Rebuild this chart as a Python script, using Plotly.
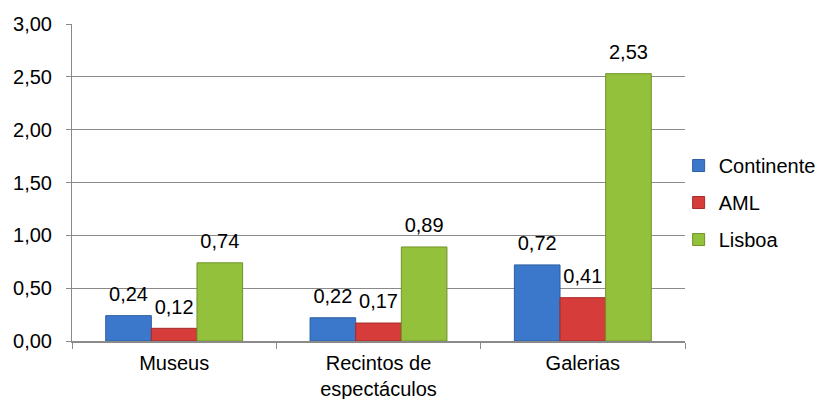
import plotly.graph_objects as go

categories = ["Museus", "Recintos de<br>espectáculos", "Galerias"]
series_names = ["Continente", "AML", "Lisboa"]
continente = [0.24, 0.22, 0.72]
aml = [0.12, 0.17, 0.41]
lisboa = [0.74, 0.89, 2.53]
y_ticks = [0, 0.5, 1.0, 1.5, 2.0, 2.5, 3.0]

colors = ["#3b78cb", "#d63c3a", "#93c13c"]
line_colors = ["#2d5e9f", "#a32c2a", "#6f9428"]
FONT = "Liberation Sans"
FS = 20

fig = go.Figure()
for i, (name, vals) in enumerate(zip(series_names, [continente, aml, lisboa])):
    fig.add_trace(go.Bar(
        x=categories, y=vals, name=name,
        offsetgroup=str(i), legendgroup=str(i),
        marker=dict(color=colors[i], line=dict(color=line_colors[i], width=1)),
    ))
for i, (name, vals) in enumerate(zip(series_names, [continente, aml, lisboa])):
    fig.add_trace(go.Scatter(
        x=categories, y=vals, mode="markers+text", showlegend=False,
        offsetgroup=str(i), hoverinfo="skip",
        text=[f"{v:.2f}".replace(".", ",") for v in vals],
        textposition="top center",
        textfont=dict(family=FONT, size=FS, color="#000000"),
        marker=dict(size=14, opacity=0),
        cliponaxis=False,
    ))

fig.update_layout(
    width=824, height=399,
    margin=dict(l=64, r=146, t=16, b=66),
    paper_bgcolor="white", plot_bgcolor="white",
    barmode="group", bargap=0.33, bargroupgap=0,
    scattermode="group", scattergap=0.33,
    separators=",.",
    font=dict(family=FONT, size=FS, color="#000000"),
    legend=dict(x=0.988, xanchor="left", y=0.615, yanchor="top",
                font=dict(family=FONT, size=FS), tracegroupgap=8,
                bgcolor="rgba(0,0,0,0)"),
    showlegend=True,
)
fig.update_yaxes(range=[0, 3], tickvals=y_ticks, tickformat=".2f",
                 showgrid=True, gridcolor="#8a8a8a", gridwidth=1,
                 showline=True, linecolor="#8a8a8a", linewidth=1,
                 ticks="outside", ticklen=5, tickcolor="#8a8a8a",
                 ticklabelstandoff=10, zeroline=False, automargin=False)
fig.update_xaxes(showline=True, linecolor="#8a8a8a", linewidth=2,
                 ticks="outside", ticklen=6, tickcolor="#8a8a8a",
                 ticklabelstandoff=3,
                 tickson="boundaries", showgrid=False, automargin=False)

fig.write_html("out.html")
